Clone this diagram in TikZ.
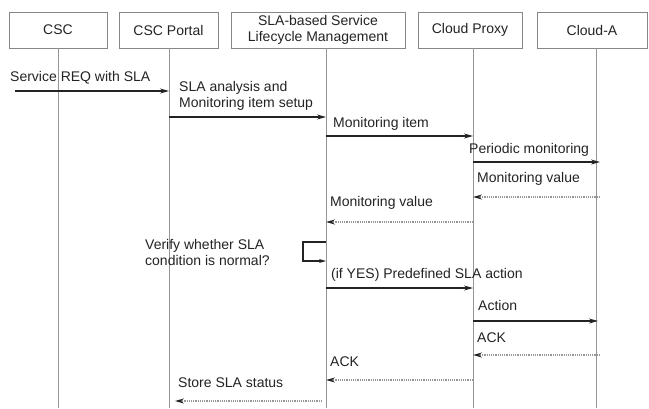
\documentclass[tikz,border=0pt]{standalone}
\usepackage{fontspec}
\setmainfont{Liberation Sans}
\usetikzlibrary{arrows.meta}
\definecolor{boxgray}{RGB}{135,135,135}
\definecolor{linegray}{RGB}{150,150,150}
\definecolor{txtgray}{RGB}{35,35,35}
\tikzset{
	actor/.style={draw=boxgray, line width=0.9pt, minimum height=36pt, text=txtgray, align=center, inner sep=0pt, font=\fontsize{14}{15.5}\selectfont},
	lifeline/.style={draw=linegray, line width=1pt},
	call/.style={draw=txtgray, line width=1.1pt, -{Stealth[length=9pt,width=5pt]}},
	reply/.style={draw=linegray, line width=1.2pt, densely dotted, -{Stealth[length=9pt,width=5pt,color=txtgray]}},
	lbl/.style={anchor=west, inner sep=0pt, text=txtgray, align=left, font=\fontsize{14}{15.5}\selectfont},
}
\begin{document}
\begin{tikzpicture}[x=1pt,y=-1pt]
	\useasboundingbox (0,0) rectangle (649,408);
	
	\node[actor, minimum width=98pt] (csc) at (58,30) {CSC};
	\node[actor, minimum width=99pt] (portal) at (168.5,30) {CSC Portal};
	\node[actor, minimum width=174pt] (slm) at (318,30) {SLA-based Service\\Lifecycle Management};
	\node[actor, minimum width=104pt] (proxy) at (470,30) {Cloud Proxy};
	\node[actor, minimum width=110pt] (clouda) at (592,30) {Cloud-A};
	
	% lifelines
	\coordinate (lcsc) at (58,48);
	\coordinate (lportal) at (169,48);
	\coordinate (lslm) at (326,48);
	\coordinate (lproxy) at (473,48);
	\coordinate (lclouda) at (596,48);
	\draw[lifeline] (lcsc) -- (lcsc |- 0,408);
	\draw[lifeline] (lportal) -- (lportal |- 0,408);
	\draw[lifeline] (lslm) -- (lslm |- 0,408);
	\draw[lifeline] (lproxy) -- (lproxy |- 0,408);
	\draw[lifeline] (lclouda) -- (lclouda |- 0,408);
	
	\coordinate (req) at (15,91);
	\node[lbl] (treq) at (10,78) {Service REQ with SLA};
	\draw[call] (req) -- (lportal |- req);
	
	\node[lbl] (tsetup) at (179,96) {SLA analysis and\\Monitoring item setup};
	\draw[call] (lportal |- 0,117) -- (lslm |- 0,117);
	
	\node[lbl] (titem) at (333,124) {Monitoring item};
	\draw[call] (lslm |- 0,136) -- (lproxy |- 0,136);
	
	\node[lbl] (tperiod) at (469,150) {Periodic monitoring};
	\draw[call] (lproxy |- 0,162) -- ([xshift=4pt]lclouda |- 0,162);
	
	\node[lbl] (tvalue) at (477,179) {Monitoring value};
	\draw[reply] ([xshift=4pt]lclouda |- 0,197) -- (lproxy |- 0,197);
	
	\node[lbl] (tvalue2) at (330,203) {Monitoring value};
	\draw[reply] (lproxy |- 0,222) -- (lslm |- 0,222);
	
	\node[lbl] (tverify) at (145,252.5) {Verify whether SLA\\condition is normal?};
	\draw[call, -{Stealth[length=7pt,width=4pt]}] (lslm |- 0,242) -- ++(-23,0) |- (lslm |- 0,261);
	
	\node[lbl] (tyes) at (331,275) {(if YES) Predefined SLA action};
	\draw[call] (lslm |- 0,288) -- (lproxy |- 0,288);
	
	\node[lbl] (taction) at (478,305) {Action};
	\draw[call] (lproxy |- 0,321) -- ([xshift=2pt]lclouda |- 0,321);
	
	\node[lbl] (tack) at (477,338) {ACK};
	\draw[reply] ([xshift=4pt]lclouda |- 0,355) -- (lproxy |- 0,355);
	
	\node[lbl] (tack2) at (330,362) {ACK};
	\draw[reply] (lproxy |- 0,380) -- (lslm |- 0,380);
	
	\node[lbl] (tstore) at (178,383) {Store SLA status};
	\draw[reply, shorten <=4pt, shorten >=6pt] (lslm |- 0,401) -- (lportal |- 0,401);
	
\end{tikzpicture}
\end{document}
